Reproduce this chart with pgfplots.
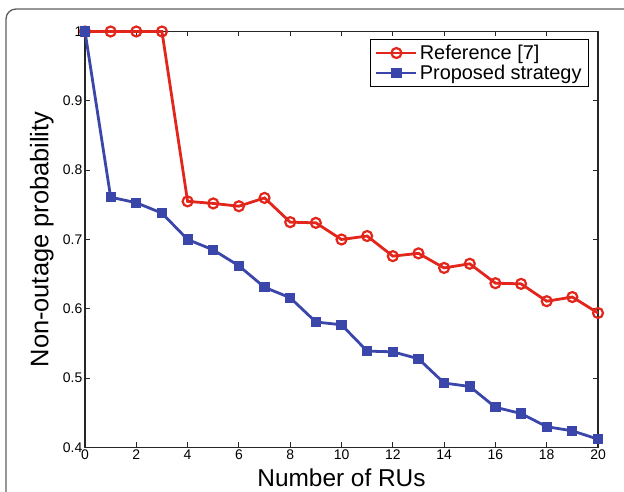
\documentclass[border=0pt]{standalone}
\usepackage{pgfplots}
\pgfplotsset{compat=1.18}
\usepackage{fontspec}
\setmainfont{Liberation Sans}
\definecolor{cred}{RGB}{226,38,28}
\definecolor{cblue}{RGB}{58,70,170}
\definecolor{frame}{RGB}{95,95,95}
\begin{document}
\begin{tikzpicture}[x=1bp,y=1bp]
\useasboundingbox (0,0) rectangle (624,492);
\begin{scope}
\clip (0,0) rectangle (624,492);
\draw[color=frame, line width=1.3bp, rounded corners=10bp] (6,-40) rectangle (680,483);
\end{scope}
\begin{axis}[
  at={(85bp,44.5bp)}, anchor=south west,
  width=513bp, height=416bp, scale only axis,
  xmin=0, xmax=20, ymin=0.4, ymax=1,
  xtick={0,2,...,20},
  ytick={0.4,0.5,0.6,0.7,0.8,0.9,1},
  yticklabels={0.4,0.5,0.6,0.7,0.8,0.9,1},
  tick align=inside, tick pos=both,
  major tick length=5bp,
  axis line style={line width=1.1bp, color=black!85},
  every tick/.style={line width=0.9bp, color=black!85},
  /pgf/number format/assume math mode=true,
  ticklabel style={font=\fontsize{14}{14}\selectfont},
  yticklabel style={inner xsep=2.5bp},
  xticklabel style={inner ysep=2.5bp},
  xlabel={Number of RUs}, ylabel={Non-outage probability},
  every axis x label/.style={at={(axis description cs:0.5,-0.073)}, anchor=center, inner sep=1bp, font=\fontsize{24.5}{24.5}\selectfont},
  every axis y label/.style={at={(axis description cs:-0.084,0.5)}, rotate=90, anchor=center, font=\fontsize{25.5}{25.5}\selectfont},
  clip=false,
  legend cell align=left,
  legend style={at={(0.9825,0.983)}, anchor=north east, draw=black, line width=1bp,
    font=\fontsize{20}{20}\selectfont, inner xsep=5bp, inner ysep=4bp, row sep=0bp},
  legend image code/.code={\draw[mark repeat=2,mark phase=2] plot coordinates {(0bp,0bp) (20bp,0bp) (40bp,0bp)};},
]
\addplot[color=cred, line width=2.8bp, mark=o, mark size=5bp, mark options={line width=2.2bp, fill=none}]
coordinates {(0,1.0) (1,1.0) (2,1.0) (3,1.0) (4,0.755) (5,0.752) (6,0.748) (7,0.760) (8,0.725) (9,0.724) (10,0.700) (11,0.705) (12,0.676) (13,0.680) (14,0.659) (15,0.665) (16,0.637) (17,0.636) (18,0.611) (19,0.617) (20,0.594)};
\addlegendentry{Reference [7]}
\addplot[color=cblue, line width=2.8bp, mark=square*, mark size=4.6bp, mark options={line width=1bp, fill=cblue}]
coordinates {(0,1.0) (1,0.761) (2,0.753) (3,0.738) (4,0.700) (5,0.685) (6,0.662) (7,0.631) (8,0.616) (9,0.581) (10,0.577) (11,0.539) (12,0.538) (13,0.528) (14,0.493) (15,0.488) (16,0.458) (17,0.449) (18,0.430) (19,0.424) (20,0.412)};
\addlegendentry{Proposed strategy}
\end{axis}
\end{tikzpicture}
\end{document}
